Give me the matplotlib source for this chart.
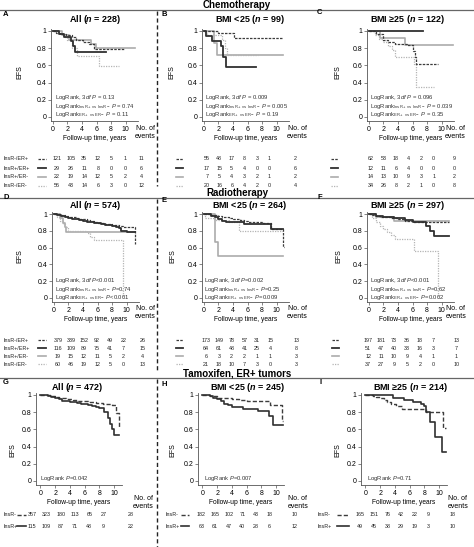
import matplotlib
matplotlib.use("Agg")
import matplotlib.pyplot as plt
import matplotlib.transforms as mtransforms
from matplotlib.lines import Line2D
from matplotlib.ticker import FuncFormatter

plt.rcParams['font.family'] = ['Liberation Sans', 'DejaVu Sans']
plt.rcParams['mathtext.fontset'] = 'custom'
plt.rcParams['mathtext.rm'] = 'Liberation Sans'
plt.rcParams['mathtext.it'] = 'Liberation Sans:italic'
plt.rcParams['mathtext.bf'] = 'Liberation Sans:bold'
if 'mathtext.bfit' in plt.rcParams:
    plt.rcParams['mathtext.bfit'] = 'Liberation Sans:italic:bold'

# ---------------- data ----------------
YEARS = [0, 2, 4, 6, 8, 10]
GROUPS4 = ["InsR-/ER+", "InsR+/ER+", "InsR+/ER-", "InsR-/ER-"]
GROUPS2 = ["InsR-", "InsR+"]

# A: chemotherapy, all
A_t = [[0, 0.4, 1.0, 1.8, 2.7, 3.2, 4.1, 5.0, 5.7, 9.8],
       [0, 0.9, 1.6, 2.5, 2.8, 3.0, 7.3],
       [0, 1.3, 2.2, 5.2, 5.9, 11.3],
       [0, 0.8, 1.6, 2.0, 2.7, 3.3, 6.3, 9.1]]
A_s = [[1, 0.98, 0.97, 0.95, 0.93, 0.9, 0.87, 0.85, 0.79, 0.79],
       [1, 0.96, 0.93, 0.88, 0.82, 0.76, 0.76],
       [1, 0.95, 0.9, 0.85, 0.8, 0.8],
       [1, 0.96, 0.93, 0.89, 0.8, 0.71, 0.59, 0.59]]
A_risk = [[121, 105, 35, 12, 5, 1], [29, 26, 11, 8, 0, 0],
          [22, 19, 14, 12, 5, 2], [56, 43, 14, 6, 3, 0]]
A_events = [11, 6, 4, 12]
A_p = ["$P$ = 0.13", "$P$ = 0.74", "$P$ = 0.11"]

# B: chemotherapy, BMI < 25
B_t = [[0, 1.9, 4.2, 10.9],
       [0, 0.3, 1.1, 2.4, 2.7, 3.0, 7.2],
       [0, 1.4, 1.8, 10.9],
       [0, 0.4, 2.5, 2.9, 3.2, 7.5]]
B_s = [[1, 0.98, 0.92, 0.92],
       [1, 0.94, 0.88, 0.82, 0.7, 0.58, 0.58],
       [1, 0.86, 0.72, 0.72],
       [1, 0.95, 0.9, 0.8, 0.72, 0.72]]
B_risk = [[55, 48, 17, 8, 3, 1], [17, 15, 5, 4, 0, 0],
          [7, 5, 4, 3, 2, 1], [20, 16, 6, 4, 2, 0]]
B_events = [2, 6, 2, 4]
B_p = ["$P$ = 0.009", "$P$ = 0.005", "$P$ = 0.19"]

# C: chemotherapy, BMI >= 25
C_t = [[0, 1.0, 2.0, 2.6, 3.6, 5.2, 6.1, 6.3, 6.5, 9.5],
       [0, 7.4],
       [0, 1.6, 5.0, 11.6],
       [0, 0.9, 1.4, 2.0, 2.6, 3.2, 3.6, 6.2, 6.5, 9.0]]
C_s = [[1, 0.97, 0.9, 0.87, 0.85, 0.84, 0.77, 0.7, 0.62, 0.62],
       [1, 1],
       [1, 0.92, 0.84, 0.84],
       [1, 0.95, 0.91, 0.87, 0.83, 0.78, 0.7, 0.62, 0.35, 0.35]]
C_risk = [[62, 53, 18, 4, 2, 0], [12, 11, 6, 4, 0, 0],
          [14, 13, 10, 9, 3, 1], [34, 26, 8, 2, 1, 0]]
C_events = [9, 0, 2, 8]
C_p = ["$P$ = 0.096", "$P$ = 0.039", "$P$ = 0.35"]

# D: radiotherapy, all
D_t = [[0, 0.5, 1, 1.5, 2, 2.5, 3, 3.5, 4, 4.5, 5, 5.5, 6, 6.5, 7, 7.5, 8, 8.5, 9, 9.5, 10, 11.1, 11.2],
       [0, 0.5, 1, 1.5, 2, 2.5, 3, 3.5, 4, 4.5, 5, 5.5, 6, 6.5, 7, 7.5, 8, 8.5, 9, 9.2, 10, 11.2],
       [0, 0.8, 1.2, 1.5, 1.7, 11.2],
       [0, 0.4, 0.8, 1.2, 1.6, 2.0, 4.5, 5.0, 5.5, 9.5]]
D_s = [[1, .995, .99, .98, .97, .96, .955, .945, .935, .925, .915, .905, .895, .89, .885, .88, .875, .865, .855, .85, .845, .64, .64],
       [1, .99, .975, .965, .955, .945, .935, .925, .915, .91, .9, .895, .89, .88, .875, .87, .86, .85, .83, .8, .78, .78],
       [1, .95, .89, .84, .79, .79],
       [1, .96, .92, .88, .84, .8, .77, .73, .69, 0]]
D_risk = [[379, 339, 152, 92, 49, 22], [116, 109, 89, 75, 41, 7],
          [19, 15, 12, 11, 5, 2], [60, 46, 19, 12, 5, 0]]
D_events = [26, 15, 4, 13]
D_p = ["$P$<0.001", "$P$=0.74", "$P$<0.001"]

# E: radiotherapy, BMI < 25
E_t = [[0, 1, 2, 2.5, 3, 3.5, 4, 4.5, 5, 5.5, 6, 7, 8, 9.2, 10.9, 11.0],
       [0, 1, 1.5, 2, 2.5, 3, 5.5, 9.2, 10.9],
       [0, 1.6, 1.9, 10.9],
       [0, 0.2, 1.6, 3.5, 4.9, 10.9]]
E_s = [[1, .99, .98, .97, .96, .95, .94, .935, .93, .92, .91, .9, .89, .82, .61, .61],
       [1, .98, .96, .94, .92, .9, .88, .82, .82],
       [1, .67, .5, .5],
       [1, .95, .93, .9, .8, .8]]
E_risk = [[173, 149, 78, 57, 31, 15], [64, 61, 48, 41, 25, 4],
          [6, 3, 2, 2, 1, 1], [21, 18, 10, 7, 3, 0]]
E_events = [13, 8, 3, 3]
E_p = ["$P$=0.002", "$P$=0.25", "$P$=0.009"]

# F: radiotherapy, BMI >= 25
F_t = [[0, 0.5, 1, 1.5, 2, 3, 4, 5, 6, 7, 8, 11.0],
       [0, 1, 2, 3.5, 5, 6, 7.9, 8.4, 9.0, 11.0],
       [0, 1, 3.5, 11.0],
       [0, 0.5, 1, 1.5, 2, 2.5, 3, 3.6, 6.2, 9.5]]
F_s = [[1, .99, .98, .97, .96, .95, .94, .92, .91, .905, .9, .9],
       [1, .98, .96, .95, .93, .91, .86, .8, .74, .74],
       [1, .97, .92, .92],
       [1, .95, .9, .86, .82, .78, .75, .7, .56, 0]]
F_risk = [[197, 181, 73, 36, 18, 7], [51, 47, 40, 33, 16, 3],
          [12, 11, 10, 9, 4, 1], [37, 27, 9, 5, 2, 0]]
F_events = [13, 7, 1, 10]
F_p = ["$P$<0.001", "$P$=0.62", "$P$=0.002"]

# G: tamoxifen ER+, all
G_t = [[0, 0.5, 1, 1.5, 2, 2.5, 3, 3.5, 4, 4.5, 5, 5.5, 6, 6.5, 7, 7.5, 8, 8.5, 9, 9.8, 10.3, 10.7],
       [0, 0.5, 1, 1.5, 2, 2.5, 3, 3.5, 4, 4.5, 5, 5.5, 6, 6.5, 7, 7.5, 8, 8.6, 9.2, 9.5, 9.7, 10.0, 10.7]]
G_s = [[1, 1, .995, .99, .98, .97, .96, .955, .95, .94, .935, .93, .925, .92, .915, .91, .905, .9, .9, .88, .79, .63],
       [1, .995, .99, .98, .965, .95, .935, .925, .92, .915, .91, .9, .89, .88, .87, .86, .85, .8, .73, .66, .6, .54, .54]]
G_risk = [[357, 323, 180, 113, 65, 27], [115, 109, 87, 71, 48, 9]]
G_events = [28, 22]
G_p = "LogRank $P$=0.042"

# H: tamoxifen ER+, BMI < 25
H_t = [[0, 1, 2, 3, 4, 5, 6, 9.2, 10.8, 11.0],
       [0, 1, 1.5, 2.0, 2.5, 3, 3.5, 4, 5.5, 7.5, 9.0, 9.6, 10.9]]
H_s = [[1, .99, .97, .96, .95, .945, .93, .88, .7, .7],
       [1, .99, .97, .95, .93, .9, .88, .865, .84, .81, .76, .65, .65]]
H_risk = [[182, 165, 102, 71, 43, 18], [63, 61, 47, 40, 28, 6]]
H_events = [10, 12]
H_p = "LogRank $P$=0.007"

# I: tamoxifen ER+, BMI >= 25
I_t = [[0, 1, 1.5, 2, 2.5, 3, 3.5, 4.2, 5.0, 8.3, 10.5, 10.9],
       [0, 3.8, 5.2, 6.5, 7.6, 8.0, 8.3, 8.8, 9.5, 10.4, 10.9]]
I_s = [[1, .99, .98, .96, .94, .92, .9, .87, .84, .8, .62, .62],
       [1, .97, .94, .92, .9, .87, .8, .68, .51, .34, .34]]
I_risk = [[165, 151, 76, 42, 22, 9], [49, 45, 38, 29, 19, 3]]
I_events = [18, 10]
I_p = "LogRank $P$=0.71"

HEADERS = ["Chemotherapy", "Radiotherapy", "Tamoxifen, ER+ tumors"]
TITLES = {"A": ("All", 228), "B": ("BMI <25", 99), "C": ("BMI \u226525", 122),
          "D": ("All", 574), "E": ("BMI <25", 264), "F": ("BMI \u226525", 297),
          "G": ("All", 472), "H": ("BMI <25", 245), "I": ("BMI \u226525", 214)}

# ---------------- styles ----------------
W, H = 474, 547
DARK = '#3c3c3c'
STY4 = [dict(color=DARK, lw=0.9, ls=(0, (2, 1))),
        dict(color='#303030', lw=1.3, ls='-'),
        dict(color='#ababab', lw=1.2, ls='-'),
        dict(color='#b4b4b4', lw=0.9, ls=(0, (1, 1)))]
STY2 = [dict(color=DARK, lw=1.0, ls=(0, (3, 1.5))),
        dict(color='#303030', lw=1.2, ls='-')]
AXC = '#555555'

fig = plt.figure(figsize=(W / 100, H / 100), dpi=100)


def fy(y):
    return 1 - y / H


def new_axes(left, top, width, height):
    return fig.add_axes([left / W, 1 - (top + height) / H, width / W, height / H])


def style_axes(ax, xlim, ylim):
    for sp in ['top', 'right']:
        ax.spines[sp].set_visible(False)
    for sp in ['left', 'bottom']:
        ax.spines[sp].set_linewidth(0.6)
        ax.spines[sp].set_color(AXC)
    ax.set_xlim(*xlim)
    ax.set_ylim(*ylim)
    ax.set_xticks(YEARS)
    ax.set_yticks([0, 0.2, 0.4, 0.6, 0.8, 1])
    ax.yaxis.set_major_formatter(FuncFormatter(lambda v, p: '%g' % v))
    ax.tick_params(length=2, width=0.5, labelsize=5, pad=1.5, color=AXC)
    ax.set_xlabel("Follow-up time, years", fontsize=4.8, labelpad=1.5)


def draw_panel(letter, t, s, risk, events, ptxt, lay):
    ax = new_axes(*lay['rect'])
    four = len(t) == 4
    sty = STY4 if four else STY2
    order = [2, 3, 0, 1] if four else [0, 1]
    for i in order:
        ax.step(t[i], s[i], where='post', **sty[i])

    # log-rank annotations
    if four:
        lines = [r"LogRank, $\mathit{3df}$ " + ptxt[0],
                 r"LogRank$_{\mathrm{InsR+\ vs\ InsR-}}$ " + ptxt[1],
                 r"LogRank$_{\mathrm{ER+\ vs\ ER-}}$ " + ptxt[2]]
        for k, ln in enumerate(lines):
            ax.text(lay['ptx'], lay['pty'][k], ln, transform=ax.transAxes,
                    fontsize=4.2, color='#333333', va='center', ha='left')
    else:
        ax.text(lay['ptx'], lay['pty'][0], ptxt, transform=ax.transAxes,
                fontsize=4.2, color='#333333', va='center', ha='left')

    # risk table
    tr = mtransforms.blended_transform_factory(ax.transData, fig.transFigure)
    groups = GROUPS4 if four else GROUPS2
    for r, row in enumerate(risk):
        yy = fy(lay['rows'][r])
        for k, n in enumerate(row):
            ax.text(lay['x0'] + lay['step'] * YEARS[k], yy, str(n), transform=tr,
                    ha='center', va='center', fontsize=3.9, color='#222222')
        ax.text(lay['evx'], yy, str(events[r]), transform=tr,
                ha='center', va='center', fontsize=3.9, color='#222222')
        ax.plot(lay['sample'], [yy, yy], transform=tr, clip_on=False, **sty[r])
        if lay.get('lab') is not None:
            fig.text(lay['lab'] / W, yy, groups[r], ha='left', va='center',
                     fontsize=3.9, color='#222222')

    style_axes(ax, lay['xlim'], lay['ylim'])

    # texts around the panel
    name, n = TITLES[letter]
    fig.text(lay['title'][0] / W, fy(lay['title'][1]), name + r" ($\mathbfit{n}$ = %d)" % n,
             ha='center', va='center', fontsize=6.5, fontweight='bold')
    fig.text(lay['letter'][0] / W, fy(lay['letter'][1]), letter, ha='left', va='center',
             fontsize=5.5, fontweight='bold')
    fig.text(lay['efs'][0] / W, fy(lay['efs'][1]), "EFS", rotation=90,
             ha='center', va='center', fontsize=5)
    fig.text(lay['noev'][0] / W, fy(lay['noev'][1]), "No. of", ha='center', va='center', fontsize=5)
    fig.text(lay['noev'][0] / W, fy(lay['noev'][2]), "events", ha='center', va='center', fontsize=5)
    return ax


XL12 = (-0.25, 11.7)
XL3 = (-0.6, 11.1)
YL1 = (-0.047, 1.023)
YL2 = (-0.048, 1.024)
ROWS1 = [159, 168, 177, 185.5]
ROWS2 = [340, 348, 356, 364]
ROWS3 = [515, 526]
PY12 = [0.25, 0.16, 0.068]
PY2 = [0.235, 0.143, 0.05]

LAYOUT = {
    "A": dict(rect=(51, 29, 87, 92), xlim=XL12, ylim=YL1, ptx=0.05, pty=PY12, rows=ROWS1,
              x0=0.6, step=0.93, evx=12.2, sample=[-2.0, -1.0], lab=3,
              title=(95, 20), letter=(3, 14), efs=(20, 72), noev=(145, 128, 137)),
    "B": dict(rect=(202, 29, 87, 92), xlim=XL12, ylim=YL1, ptx=0.035, pty=PY12, rows=ROWS1,
              x0=0.4, step=0.86, evx=12.6, sample=[-3.8, -2.8], lab=None,
              title=(250, 20), letter=(162, 14), efs=(172, 72), noev=(297, 128, 137)),
    "C": dict(rect=(367, 29, 87, 92), xlim=XL12, ylim=YL1, ptx=0.035, pty=PY12, rows=ROWS1,
              x0=0.3, step=0.86, evx=11.8, sample=[-5.2, -4.2], lab=None,
              title=(407, 20), letter=(317, 12), efs=(338, 72), noev=(455, 128, 137)),
    "D": dict(rect=(52, 212, 87, 90), xlim=XL12, ylim=YL2, ptx=0.035, pty=PY2, rows=ROWS2,
              x0=0.55, step=0.9, evx=12.2, sample=[-2.2, -1.1], lab=3,
              title=(95, 205), letter=(3, 198), efs=(20, 256), noev=(145, 309, 317)),
    "E": dict(rect=(202, 212, 87, 90), xlim=XL12, ylim=YL2, ptx=0.025, pty=PY2, rows=ROWS2,
              x0=0.3, step=0.88, evx=12.7, sample=[-3.8, -2.9], lab=None,
              title=(250, 206), letter=(162, 201), efs=(173, 256), noev=(297, 309, 317)),
    "F": dict(rect=(367, 212, 87, 90), xlim=XL12, ylim=YL2, ptx=0.035, pty=PY2, rows=ROWS2,
              x0=-0.1, step=0.89, evx=12.0, sample=[-5.1, -4.1], lab=None,
              title=(407, 205), letter=(317, 198), efs=(339, 256), noev=(456, 309, 317)),
    "G": dict(rect=(36, 393, 86, 92), xlim=XL3, ylim=YL1, ptx=0.05, pty=[0.076], rows=ROWS3,
              x0=-1.1, step=0.97, evx=12.3, sample=[-3.2, -1.9], lab=3,
              title=(77, 388), letter=(3, 383), efs=(13, 450), noev=(143, 499, 506)),
    "H": dict(rect=(198, 393, 86, 92), xlim=XL3, ylim=YL1, ptx=0.07, pty=[0.076], rows=ROWS3,
              x0=-0.15, step=0.93, evx=12.6, sample=[-2.9, -1.8], lab=166,
              title=(248, 388), letter=(162, 385), efs=(173, 450), noev=(298, 499, 506)),
    "I": dict(rect=(361, 393, 86, 92), xlim=XL3, ylim=YL1, ptx=0.07, pty=[0.076], rows=ROWS3,
              x0=-0.7, step=0.92, evx=11.9, sample=[-3.8, -2.3], lab=318,
              title=(410, 388), letter=(319, 383), efs=(338, 450), noev=(458, 499, 506)),
}

draw_panel("A", A_t, A_s, A_risk, A_events, A_p, LAYOUT["A"])
draw_panel("B", B_t, B_s, B_risk, B_events, B_p, LAYOUT["B"])
draw_panel("C", C_t, C_s, C_risk, C_events, C_p, LAYOUT["C"])
draw_panel("D", D_t, D_s, D_risk, D_events, D_p, LAYOUT["D"])
draw_panel("E", E_t, E_s, E_risk, E_events, E_p, LAYOUT["E"])
draw_panel("F", F_t, F_s, F_risk, F_events, F_p, LAYOUT["F"])
draw_panel("G", G_t, G_s, G_risk, G_events, G_p, LAYOUT["G"])
draw_panel("H", H_t, H_s, H_risk, H_events, H_p, LAYOUT["H"])
draw_panel("I", I_t, I_s, I_risk, I_events, I_p, LAYOUT["I"])

# section headers, separator lines and the dashed column divider
for txt, ty, ly in zip(HEADERS, [5, 192.5, 373], [10, 198, 378]):
    fig.text(237 / W, fy(ty), txt, ha='center', va='center', fontsize=7, fontweight='bold')
    fig.add_artist(Line2D([0, 1], [fy(ly), fy(ly)], color='#666666', lw=0.9))
for y0, y1 in [(11, 186), (199, 371), (379, 547)]:
    fig.add_artist(Line2D([157 / W, 157 / W], [fy(y0), fy(y1)], color='#222222',
                          lw=1.0, ls=(0, (3, 2))))

fig.savefig("out.png", dpi=100)
